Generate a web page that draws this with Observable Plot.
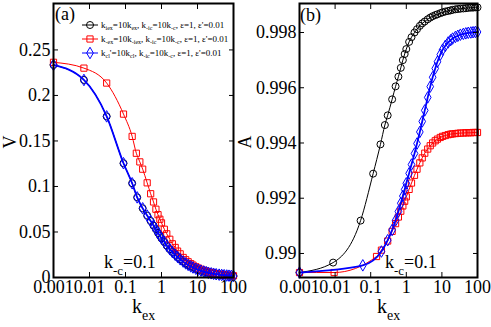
<!DOCTYPE html>
<html><head><meta charset="utf-8">
<script src="https://cdn.jsdelivr.net/npm/d3@7"></script>
<script src="https://cdn.jsdelivr.net/npm/@observablehq/plot@0.6"></script>
<style>
body{margin:0;background:#fff;}
#wrap{position:relative;width:491px;height:327px;display:flex;font-family:'Liberation Serif',serif;}
#wrap svg text{font-family:'Liberation Serif',serif;}
#wrap svg.ov{position:absolute;left:0;top:0;pointer-events:none;}
</style></head><body><div id="wrap"></div>
<script>
// ---- tick values / labels
const xTicks = [0.001, 0.01, 0.1, 1, 10, 100];
const xTickLabels = ["0.001", "0.01", "0.1", "1", "10", "100"];
const vTicks = [0, 0.05, 0.1, 0.15, 0.2, 0.25];
const vTickLabels = ["0", "0.05", "0.1", "0.15", "0.2", "0.25"];
const aTicks = [0.99, 0.992, 0.994, 0.996, 0.998];
const aTickLabels = ["0.99", "0.992", "0.994", "0.996", "0.998"];

// ---- shared dense k grid (k_ex >= 0.3)
const kDense = [0.3,0.4,0.5,0.6,0.7,0.8,0.9,1,1.2,1.4,1.7,2,2.4,2.8,3.3,4,4.7,5.5,6.5,7.5,9,10.5,12.5,15,17.5,20,24,28,33,40,47,55,65,75,87,100];

// ---- panel (a): V
const kBlackA = [0.001, 0.007, 0.03, 0.088, 0.153, 0.211];
const vBlack = [0.2335, 0.217, 0.177, 0.1255, 0.1035, 0.088,
  0.076,0.068,0.062,0.057,0.053,0.049,0.046,0.043,0.039,0.035,0.031,0.028,0.025,0.0225,0.020,0.0175,0.0155,0.0138,0.0122,0.011,0.0096,0.0085,0.0075,0.0065,0.0058,0.0052,0.0046,0.0041,0.0036,0.0031,0.0028,0.0025,0.0022,0.002,0.0018,0.0016];
const kRedA = [0.001, 0.007, 0.03, 0.088, 0.153, 0.2, 0.25];
const vRed = [0.2364, 0.230, 0.2136, 0.1795, 0.155, 0.1365, 0.127,
  0.119,0.104,0.092,0.083,0.075,0.069,0.064,0.060,0.053,0.048,0.042,0.037,0.033,0.029,0.026,0.022,0.0195,0.0173,0.0152,0.0136,0.0118,0.0104,0.0091,0.0079,0.007,0.0063,0.0055,0.0049,0.0043,0.0037,0.0033,0.0029,0.0026,0.0023,0.0021,0.0019];
const kBlueA = [0.001, 0.007, 0.03, 0.088, 0.153, 0.211];
const vBlue = [0.2335, 0.217, 0.177, 0.1255, 0.1035, 0.088,
  0.076,0.068,0.062,0.057,0.053,0.049,0.046,0.043,0.039,0.035,0.031,0.028,0.025,0.0225,0.020,0.0175,0.0155,0.0138,0.0122,0.011,0.0096,0.0085,0.0075,0.0065,0.0058,0.0052,0.0046,0.0041,0.0036,0.0031,0.0028,0.0025,0.0022,0.002,0.0018,0.0016];

// ---- panel (b): A
const kBlackB = [0.001, 0.0088, 0.052, 0.117, 0.188, 0.25];
const aBlack = [0.98931, 0.98967, 0.99119, 0.99289, 0.99395, 0.99465,
  0.99500,0.99558,0.99605,0.99640,0.99672,0.99700,0.99722,0.99740,0.99766,0.99783,0.99800,0.99812,0.99824,0.99833,0.99840,0.99848,0.99854,0.99859,0.99863,0.99866,0.99870,0.99873,0.99876,0.99878,0.99880,0.99882,0.99884,0.99885,0.99886,0.99887,0.99888,0.99889,0.99890,0.99890,0.99891,0.99891];
const kRedB = [0.001, 0.0094, 0.146, 0.2];
const aRed = [0.98931, 0.98931, 0.98989, 0.99012,
  0.99045,0.99080,0.99108,0.99132,0.99153,0.99172,0.99189,0.99205,0.99232,0.99255,0.99283,0.99305,0.99328,0.99346,0.99363,0.99378,0.99390,0.99400,0.99408,0.99414,0.99420,0.99424,0.99427,0.99430,0.99432,0.99433,0.99434,0.99435,0.99436,0.99436,0.99437,0.99437,0.99437,0.99438,0.99438,0.99438];
const kBlueB = [0.001, 0.06, 0.2];
const aBlue = [0.98931, 0.98957, 0.99007,
  0.99048,0.99085,0.99120,0.99152,0.99182,0.99208,0.99232,0.99254,0.99290,0.99322,0.99362,0.99398,0.99440,0.99478,0.99518,0.99565,0.99604,0.99638,0.99670,0.99694,0.99720,0.99738,0.99752,0.99764,0.99772,0.99778,0.99784,0.99788,0.99792,0.99795,0.99797,0.99799,0.99800,0.99801,0.99802,0.99802];

// ---- legend
const legendLabels = [
  [["k",0],["iex",1],["=10k",0],["ex",1],[", k",0],["-ic",1],["=10k",0],["-c",1],[", \u03b5=1, \u03b5'=0.01",0]],
  [["k",0],["-ex",1],["=10k",0],["-iex",1],[", k",0],["-ic",1],["=10k",0],["-c",1],[", \u03b5=1, \u03b5'=0.01",0]],
  [["k",0],["cl",1],["'=10k",0],["cl",1],[", k",0],["-ic",1],["=10k",0],["-c",1],[", \u03b5=1, \u03b5'=0.01",0]]
];
const seriesColors = ["#000000", "#ff0000", "#0000ff"];
const seriesSymbols = ["circle", "square", "diamond"];

const FONT = "'Liberation Serif', serif";
function rows(ks, vs) {
  const all = ks.concat(kDense);
  return all.map((k, i) => ({k, v: vs[i]}));
}

function panel({width, marginLeft, marginRight, yDomain, yTicks, yLabels, series}) {
  const marks = [];
  series.forEach((s, i) => {
    marks.push(Plot.line(s, {x: "k", y: "v", stroke: seriesColors[i], strokeWidth: i === 2 ? 1.8 : 1, curve: "monotone-x"}));
    marks.push(Plot.dot(s, {x: "k", y: "v", symbol: seriesSymbols[i], r: 3.5, stroke: seriesColors[i], fill: "none", strokeWidth: 1}));
  });
  const fx = d => xTickLabels[xTicks.indexOf(d)];
  const fy = d => yLabels[yTicks.indexOf(d)];
  marks.push(
    Plot.axisX(xTicks, {anchor: "bottom", tickSize: 0, tickPadding: 3, tickFormat: fx, label: null, fontSize: 18, fontFamily: FONT}),
    Plot.axisX(xTicks, {anchor: "bottom", tickSize: -5, tickFormat: () => "", label: null}),
    Plot.axisX(xTicks, {anchor: "top", tickSize: -5, tickFormat: () => "", label: null}),
    Plot.axisY(yTicks, {anchor: "left", tickSize: 0, tickPadding: 3, tickFormat: fy, label: null, fontSize: 18, fontFamily: FONT}),
    Plot.axisY(yTicks, {anchor: "left", tickSize: -5, tickFormat: () => "", label: null}),
    Plot.axisY(yTicks, {anchor: "right", tickSize: -5, tickFormat: () => "", label: null}),
    Plot.frame({stroke: "black", strokeWidth: 2})
  );
  return Plot.plot({
    width, height: 327, marginLeft, marginRight, marginTop: 3, marginBottom: 50,
    x: {type: "log", domain: [0.001, 100]},
    y: {domain: yDomain},
    style: {fontFamily: FONT, fontSize: "18px", background: "transparent", overflow: "visible", color: "black"},
    marks
  });
}

const wrap = document.getElementById("wrap");
wrap.appendChild(panel({
  width: 245, marginLeft: 53, marginRight: 12, yDomain: [0, 0.301], yTicks: vTicks, yLabels: vTickLabels,
  series: [rows(kBlackA, vBlack), rows(kRedA, vRed), rows(kBlueA, vBlue)]
}));
wrap.appendChild(panel({
  width: 246, marginLeft: 54, marginRight: 14, yDomain: [0.98913, 0.99905], yTicks: aTicks, yLabels: aTickLabels,
  series: [rows(kBlackB, aBlack), rows(kRedB, aRed), rows(kBlueB, aBlue)]
}));

// ---- overlay texts
const ov = d3.select(wrap).append("svg").attr("class", "ov").attr("width", 491).attr("height", 327)
  .attr("font-family", FONT);

function subText(x, y, parts, size, subSize, subDy, fill) {
  const t = ov.append("text").attr("x", x).attr("y", y).attr("font-size", size).attr("fill", fill || "black");
  let inSub = false;
  parts.forEach(([s, sub]) => {
    const ts = t.append("tspan").text(s);
    if (sub) { ts.attr("font-size", subSize); if (!inSub) ts.attr("dy", subDy); inSub = true; }
    else { if (inSub) ts.attr("dy", -subDy); inSub = false; }
  });
  return t;
}

// panel labels
ov.append("text").attr("x", 55).attr("y", 20).attr("font-size", 18).text("(a)");
ov.append("text").attr("x", 300).attr("y", 21).attr("font-size", 18).text("(b)");
// y labels
ov.append("text").attr("transform", "translate(16,142) rotate(-90)").attr("text-anchor", "middle").attr("font-size", 18).text("V");
ov.append("text").attr("transform", "translate(251,142) rotate(-90)").attr("text-anchor", "middle").attr("font-size", 18).text("A");
// x labels
subText(132, 313, [["k",0],["ex",1]], 20, 14, 7);
subText(377, 313, [["k",0],["ex",1]], 20, 14, 7);
// annotations
subText(104, 268, [["k",0],["-c",1],["=0.1",0]], 18, 13, 7);
subText(385, 268, [["k",0],["-c",1],["=0.1",0]], 18, 13, 7);

// legend
const legY = [25, 39, 53];
legendLabels.forEach((parts, i) => {
  const y = legY[i];
  ov.append("line").attr("x1", 82).attr("x2", 98).attr("y1", y).attr("y2", y).attr("stroke", seriesColors[i]).attr("stroke-width", 1);
  ov.append("path").attr("transform", `translate(90,${y})`)
    .attr("d", d3.symbol(i === 0 ? d3.symbolCircle : i === 1 ? d3.symbolSquare : d3.symbolDiamond, Math.PI * 3.5 * 3.5)())
    .attr("fill", "none").attr("stroke", seriesColors[i]);
  subText(101, y + 3, parts, 9, 6, 2);
});
</script></body></html>
